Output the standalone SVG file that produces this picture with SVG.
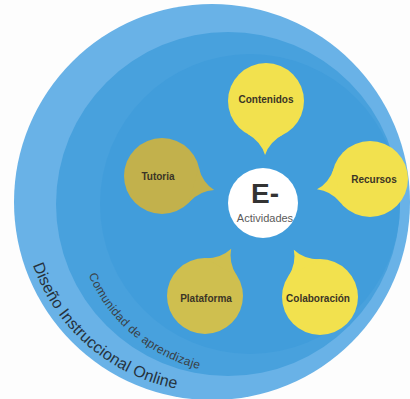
<svg xmlns="http://www.w3.org/2000/svg" xmlns:xlink="http://www.w3.org/1999/xlink" width="410" height="399" viewBox="0 0 410 399">
<style>
.lbl{font-family:"Liberation Sans",Arial,sans-serif;font-weight:bold;font-size:10px;fill:#3b3526;text-anchor:middle}
.yel{fill:#f2e14e}
.olv{fill:#c2b14c}
.olv2{fill:#cfbf4f}
.ring{font-family:"Liberation Sans",Arial,sans-serif}
</style>
<defs>
<path id="tail" d="M 33,-18 Q 41,-4 54,0 Q 41,4 33,18 Z"/>
<path id="arcOuter" d="M 30.3,257.5 A 190 190 0 0 0 212,392"/>
<path id="arcMid" d="M 87.7,273.2 A 164 164 0 0 0 199.4,369"/>
</defs>
<rect width="410" height="399" fill="#fdfdfd"/>
<g id="ring-diseno">
<circle cx="212" cy="202" r="198" fill="#69b2e7"/>
<text class="ring" font-size="16" fill="#26323d"><textPath xlink:href="#arcOuter" href="#arcOuter" startOffset="8" textLength="198" lengthAdjust="spacing">Diseño Instruccional Online</textPath></text>
</g>
<g id="ring-comunidad">
<circle cx="228" cy="204" r="172" fill="#48a1dd"/>
<circle cx="250" cy="204" r="150" fill="#419ddb"/>
<text class="ring" font-size="12" fill="#3a3f45"><textPath xlink:href="#arcMid" href="#arcMid" startOffset="2" textLength="150" lengthAdjust="spacing">Comunidad de aprendizaje</textPath></text>
</g>
<g id="connectors"></g>
<g id="contenidos" class="yel">
<circle cx="266" cy="101" r="38"/>
<use xlink:href="#tail" href="#tail" transform="translate(266,101) rotate(91)"/>
<text class="lbl" x="266" y="103">Contenidos</text>
</g>
<g id="recursos" class="yel">
<circle cx="370" cy="179" r="38"/>
<use xlink:href="#tail" href="#tail" transform="translate(370,179) rotate(169)"/>
<text class="lbl" x="374" y="183">Recursos</text>
</g>
<g id="colaboracion" class="yel">
<circle cx="320" cy="297" r="38"/>
<use xlink:href="#tail" href="#tail" transform="translate(320,297) rotate(241)"/>
<text class="lbl" x="318" y="302">Colaboración</text>
</g>
<g id="plataforma" class="olv2">
<circle cx="205" cy="296" r="38"/>
<use xlink:href="#tail" href="#tail" transform="translate(205,296) rotate(-61)"/>
<text class="lbl" x="206" y="302">Plataforma</text>
</g>
<g id="tutoria" class="olv">
<circle cx="162" cy="176" r="38"/>
<use xlink:href="#tail" href="#tail" transform="translate(162,176) rotate(15)"/>
<text class="lbl" x="158" y="180">Tutoria</text>
</g>
<g id="e-actividades">
<circle cx="263" cy="203" r="35" fill="#ffffff"/>
<text x="265" y="203" font-family="Liberation Sans,Arial,sans-serif" font-weight="bold" font-size="28" fill="#333333" text-anchor="middle">E-</text>
<text x="265" y="222" font-family="Liberation Sans,Arial,sans-serif" font-size="11" fill="#5a5a5a" text-anchor="middle">Actividades</text>
</g>
</svg>
